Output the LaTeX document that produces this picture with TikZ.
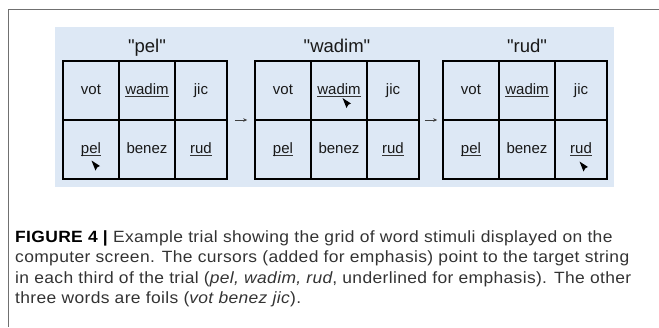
\documentclass[tikz,border=0pt]{standalone}
\usepackage{fontspec}
\setmainfont{Liberation Sans}
\newfontfamily\titlefont{Liberation Sans}
\newfontfamily\capfont[FakeStretch=1.07,LetterSpace=2.2]{Liberation Sans}
\usetikzlibrary{arrows.meta}

\definecolor{panelblue}{HTML}{DDE8F5}
\definecolor{framegray}{HTML}{707070}
\definecolor{captext}{HTML}{333333}
\definecolor{ulc}{HTML}{333333}

% underlined word: rule sits just under the baseline
\newsavebox\ulbox
\newcommand\ulword[1]{\sbox\ulbox{#1}\rlap{\color{ulc}\rule[-2.6pt]{\wd\ulbox}{1.3pt}}\usebox\ulbox}

\tikzset{
  gridbox/.style={draw=black, line width=1.6pt, minimum width=164pt, minimum height=118pt, inner sep=0pt},
  cell/.style={draw=black, line width=1.6pt, minimum height=59pt, inner sep=0pt,
    text height=10.5pt, text depth=3pt, text=black!90,
    font=\fontsize{15}{17}\selectfont},
  gridtitle/.style={anchor=base, inner sep=0pt, font=\titlefont\fontsize{18.5}{21}\selectfont, text=black!90},
  nextarrow/.style={-{Stealth[length=4pt,width=3.5pt]}, line width=0.6pt, draw=black!75},
  cursor/.style={fill=black},
  capline/.style={anchor=base west, inner sep=0pt, text=captext,
    font=\capfont\fontsize{16.3}{20}\selectfont},
}

% one 3x2 grid of words; #1 = name, #2 = left edge
\newcommand\wordgrid[2]{%
  \node[gridbox] (#1) at (#2+82,120) {};
  \node[cell, minimum width=56pt] (#1-vot)   at (#2+28,90.5)  {vot};
  \node[cell, minimum width=56pt] (#1-wadim) at (#2+84,90.5)  {\ulword{wadim}};
  \node[cell, minimum width=52pt] (#1-jic)   at (#2+138,90.5) {jic};
  \node[cell, minimum width=56pt] (#1-pel)   at (#2+28,149.5) {\ulword{pel}};
  \node[cell, minimum width=56pt] (#1-benez) at (#2+84,149.5) {benez};
  \node[cell, minimum width=52pt] (#1-rud)   at (#2+138,149.5) {\ulword{rud}};
}

% mouse pointer, tip at the origin of the current shift
\newcommand\pointer{(0,0) -- (8.5,5.5) -- (5.8,6.8) -- (4,10) -- cycle}

\begin{document}
\begin{tikzpicture}[x=1pt,y=-1pt]
  \useasboundingbox (0,0) rectangle (659,327);

  % outer frame (open to the right and bottom)
  \draw[framegray, line width=1.6pt] (8.5,327) -- (8.5,9.5) -- (659,9.5);

  % light blue backdrop
  \fill[panelblue] (55,27) rectangle (614,187);

  \wordgrid{g1}{63}
  \wordgrid{g2}{255}
  \wordgrid{g3}{443}

  \node[gridtitle] (t1) at (147,52) {"pel"};
  \node[gridtitle] (t2) at (337,52) {"wadim"};
  \node[gridtitle] (t3) at (527,52) {"rud"};

  \draw[nextarrow, shorten <=7pt, shorten >=7pt] (g1.east) -- (g2.west);
  \draw[nextarrow, shorten <=5pt, shorten >=5pt] (g2.east) -- (g3.west);

  % cursors on the target word of each third
  \fill[cursor, shift={(g1-pel.center)}]   [shift={(0.5,11)}]  \pointer;
  \fill[cursor, shift={(g2-wadim.center)}] [shift={(3.5,7.5)}] \pointer;
  \fill[cursor, shift={(g3-rud.center)}]   [shift={(-1.5,12)}] \pointer;

  % caption
  \node[capline] (cap1) at (15,242)   {\textbf{\color{black}FIGURE 4 |} Example trial showing the grid of word stimuli displayed on the};
  \node[capline] (cap2) at (15,262.5) {computer screen. The cursors (added for emphasis) point to the target string};
  \node[capline] (cap3) at (15,283)   {in each third of the trial (\textit{pel, wadim, rud}, underlined for emphasis). The other};
  \node[capline] (cap4) at (15,303.5) {three words are foils (\textit{vot benez jic}).};
\end{tikzpicture}
\end{document}
